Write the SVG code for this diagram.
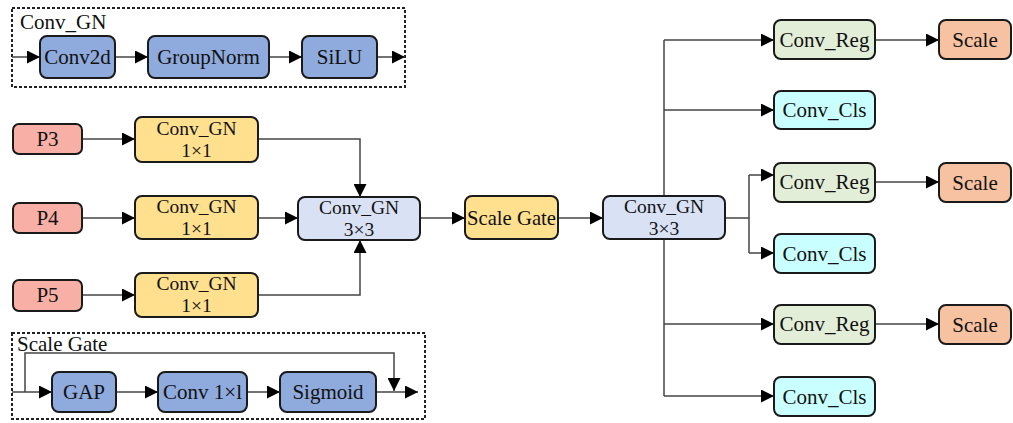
<svg xmlns="http://www.w3.org/2000/svg" width="1013" height="423" viewBox="0 0 1013 423">
<defs>
<marker id="ahb" viewBox="0 0 10 10" refX="10" refY="5" markerWidth="13" markerHeight="13" markerUnits="userSpaceOnUse" orient="auto">
<path d="M0,0 L10,5 L0,10 Z" fill="#000"/>
</marker>
</defs>
<style>
.box{stroke:#1a1a1a;stroke-width:2}
.t{font-family:"Liberation Serif","Times New Roman",serif;font-size:21px;fill:#111;text-anchor:middle}
.t2{font-family:"Liberation Serif","Times New Roman",serif;font-size:19.5px;fill:#111;text-anchor:middle}
.lbl{font-family:"Liberation Serif","Times New Roman",serif;font-size:21px;fill:#111}
.c{fill:none;stroke:#444;stroke-width:1.5}
.dash{fill:none;stroke:#222;stroke-width:2;stroke-dasharray:3,2}
.pink{fill:#F8AFA6}.yel{fill:#FFE08F}.lav{fill:#D9E1F4}.blue{fill:#8FAADC}.grn{fill:#E2EED8}.cyan{fill:#C9FFFF}.org{fill:#F6C2A2}
</style>
<rect width="1013" height="423" fill="#fff"/>

<g id="legend-convgn">
<rect class="dash" x="12" y="8" width="393" height="79"/>
<text class="lbl" x="20" y="29">Conv_GN</text>
</g>
<g id="legend-scalegate">
<rect class="dash" x="12" y="333" width="413" height="86"/>
<text class="lbl" x="17" y="351">Scale Gate</text>
</g>

<g id="connectors">
<path class="c" d="M12,57 H40" marker-end="url(#ahb)"/>
<path class="c" d="M115,57 H148" marker-end="url(#ahb)"/>
<path class="c" d="M269,57 H302" marker-end="url(#ahb)"/>
<path class="c" d="M377,57 H405" marker-end="url(#ahb)"/>

<path class="c" d="M12,392 H52" marker-end="url(#ahb)"/>
<path class="c" d="M116,392 H158" marker-end="url(#ahb)"/>
<path class="c" d="M247,392 H280" marker-end="url(#ahb)"/>
<path class="c" d="M376,392 H418" marker-end="url(#ahb)"/>
<path class="c" d="M25,392 V353 H394 V391" marker-end="url(#ahb)"/>

<path class="c" d="M82,139 H135" marker-end="url(#ahb)"/>
<path class="c" d="M82,218 H135" marker-end="url(#ahb)"/>
<path class="c" d="M82,295 H135" marker-end="url(#ahb)"/>
<path class="c" d="M258,139 H360 V197" marker-end="url(#ahb)"/>
<path class="c" d="M258,218 H298" marker-end="url(#ahb)"/>
<path class="c" d="M258,295 H360 V240" marker-end="url(#ahb)"/>
<path class="c" d="M420,218 H465" marker-end="url(#ahb)"/>
<path class="c" d="M558,218 H603" marker-end="url(#ahb)"/>

<path class="c" d="M664,40 V396"/>
<path class="c" d="M664,40 H774" marker-end="url(#ahb)"/>
<path class="c" d="M664,110 H774" marker-end="url(#ahb)"/>
<path class="c" d="M664,324 H774" marker-end="url(#ahb)"/>
<path class="c" d="M664,396 H774" marker-end="url(#ahb)"/>
<path class="c" d="M725,218 H749"/>
<path class="c" d="M749,175 V253"/>
<path class="c" d="M749,175 H774" marker-end="url(#ahb)"/>
<path class="c" d="M749,253 H774" marker-end="url(#ahb)"/>
<path class="c" d="M875,40 H939" marker-end="url(#ahb)"/>
<path class="c" d="M875,182 H939" marker-end="url(#ahb)"/>
<path class="c" d="M875,324 H939" marker-end="url(#ahb)"/>
</g>

<g id="conv2d"><rect class="box blue" x="40" y="36" width="75" height="42" rx="7"/><text class="t" x="77.5" y="64">Conv2d</text></g>
<g id="groupnorm"><rect class="box blue" x="148" y="36" width="121" height="42" rx="7"/><text class="t" x="208.5" y="64">GroupNorm</text></g>
<g id="silu"><rect class="box blue" x="302" y="36" width="75" height="42" rx="7"/><text class="t" x="339.5" y="64">SiLU</text></g>

<g id="gap"><rect class="box blue" x="52" y="372" width="64" height="40" rx="7"/><text class="t" x="84" y="399">GAP</text></g>
<g id="conv1x1"><rect class="box blue" x="158" y="372" width="89" height="40" rx="7"/><text class="t" x="202.5" y="399">Conv 1×l</text></g>
<g id="sigmoid"><rect class="box blue" x="280" y="372" width="96" height="40" rx="7"/><text class="t" x="328" y="399">Sigmoid</text></g>

<g id="p3"><rect class="box pink" x="13" y="124" width="69" height="30" rx="6"/><text class="t" x="47.5" y="146">P3</text></g>
<g id="p4"><rect class="box pink" x="13" y="203" width="69" height="30" rx="6"/><text class="t" x="47.5" y="225">P4</text></g>
<g id="p5"><rect class="box pink" x="13" y="280" width="69" height="31" rx="6"/><text class="t" x="47.5" y="302">P5</text></g>

<g id="convgn1"><rect class="box yel" x="135" y="117" width="123" height="45" rx="7"/><text class="t2" x="196.5" y="135">Conv_GN</text><text class="t2" x="196.5" y="157">1×1</text></g>
<g id="convgn2"><rect class="box yel" x="135" y="196" width="123" height="43" rx="7"/><text class="t2" x="196.5" y="213">Conv_GN</text><text class="t2" x="196.5" y="235">1×1</text></g>
<g id="convgn3"><rect class="box yel" x="135" y="273" width="123" height="44" rx="7"/><text class="t2" x="196.5" y="290">Conv_GN</text><text class="t2" x="196.5" y="312">1×1</text></g>

<g id="convgn33a"><rect class="box lav" x="298" y="197" width="122" height="43" rx="7"/><text class="t2" x="359" y="214">Conv_GN</text><text class="t2" x="359" y="236">3×3</text></g>
<g id="scalegate"><rect class="box yel" x="465" y="196" width="93" height="43" rx="7"/><text class="t" x="511.5" y="225" textLength="89" lengthAdjust="spacingAndGlyphs">Scale Gate</text></g>
<g id="convgn33b"><rect class="box lav" x="603" y="196" width="122" height="43" rx="7"/><text class="t2" x="664" y="213">Conv_GN</text><text class="t2" x="664" y="235">3×3</text></g>

<g id="reg1"><rect class="box grn" x="774" y="20" width="101" height="39" rx="7"/><text class="t" x="824.5" y="47">Conv_Reg</text></g>
<g id="cls1"><rect class="box cyan" x="774" y="91" width="101" height="38" rx="7"/><text class="t" x="824.5" y="117">Conv_Cls</text></g>
<g id="reg2"><rect class="box grn" x="774" y="163" width="101" height="39" rx="7"/><text class="t" x="824.5" y="189">Conv_Reg</text></g>
<g id="cls2"><rect class="box cyan" x="774" y="234" width="101" height="39" rx="7"/><text class="t" x="824.5" y="261">Conv_Cls</text></g>
<g id="reg3"><rect class="box grn" x="774" y="305" width="101" height="39" rx="7"/><text class="t" x="824.5" y="331">Conv_Reg</text></g>
<g id="cls3"><rect class="box cyan" x="774" y="377" width="101" height="39" rx="7"/><text class="t" x="824.5" y="404">Conv_Cls</text></g>

<g id="scale1"><rect class="box org" x="939" y="20" width="72" height="39" rx="7"/><text class="t" x="975" y="47">Scale</text></g>
<g id="scale2"><rect class="box org" x="939" y="163" width="72" height="39" rx="7"/><text class="t" x="975" y="190">Scale</text></g>
<g id="scale3"><rect class="box org" x="939" y="305" width="72" height="39" rx="7"/><text class="t" x="975" y="332">Scale</text></g>
</svg>
